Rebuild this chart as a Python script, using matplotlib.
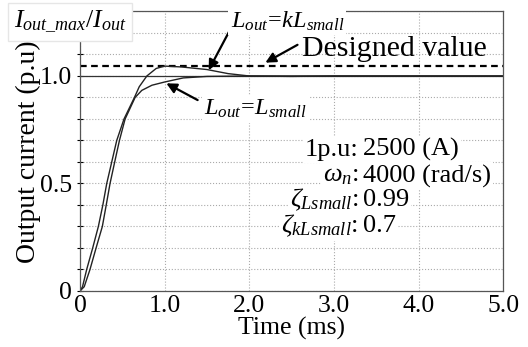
import numpy as np
import matplotlib
matplotlib.use("Agg")
import matplotlib.pyplot as plt

plt.rcParams['font.family'] = ['Liberation Serif', 'DejaVu Serif']
plt.rcParams['mathtext.fontset'] = 'custom'
plt.rcParams['mathtext.rm'] = 'Liberation Serif'
plt.rcParams['mathtext.it'] = 'Liberation Serif:italic'

# step responses (time in ms, current in p.u)
t_klsmall = [0, 0.03, 0.079, 0.15, 0.217, 0.27, 0.316, 0.375, 0.434, 0.52,
             0.643, 0.70, 0.79, 0.90, 1.0, 1.2, 1.5, 1.75, 2.0, 2.5, 3.0, 5.0]
i_klsmall = [0, 0.02, 0.1, 0.2, 0.3, 0.4, 0.5, 0.6, 0.7, 0.8,
             0.9, 0.95, 1.0, 1.035, 1.046, 1.042, 1.03, 1.011, 1.0, 0.998, 1.0, 1.0]

t_lsmall = [0, 0.05, 0.118, 0.19, 0.264, 0.31, 0.355, 0.41, 0.466, 0.533,
            0.651, 0.73, 0.85, 1.0, 1.22, 1.5, 2.0, 5.0]
i_lsmall = [0, 0.02, 0.1, 0.2, 0.3, 0.4, 0.5, 0.6, 0.7, 0.8,
            0.9, 0.933, 0.957, 0.972, 0.991, 0.998, 1.0, 1.0]

designed = 1.046
rated = 1.0

par_names = ['1p.u:', r'$\omega_n$:', r'$\zeta_{Lsmall}$:', r'$\zeta_{kLsmall}$:']
par_values = ['2500 (A)', '4000 (rad/s)', '0.99', '0.7']

fig = plt.figure(figsize=(5.28, 3.47), dpi=100)
ax = fig.add_axes([0.1515, 0.1614, 0.8015, 0.8055])

ax.set_xlim(0, 5)
ax.set_ylim(0, 1.3)
ax.set_xticks([0, 1, 2, 3, 4, 5])
ax.set_xticklabels(['0', '1.0', '2.0', '3.0', '4.0', '5.0'])
ax.set_yticks([0, 0.5, 1.0])
ax.set_yticklabels(['0', '0.5', '1.0'])
ax.set_yticks(np.arange(0, 1.31, 0.1), minor=True)
ax.tick_params(axis='both', which='major', labelsize=18.5)
ax.tick_params(axis='x', length=0, pad=3)
ax.tick_params(axis='y', which='both', direction='inout', length=5, width=0.8, pad=3)
ax.grid(True, which='both', color='#aaaaaa', linestyle=':', linewidth=0.8)
for s in ax.spines.values():
    s.set_color('#555555')
    s.set_linewidth(0.9)

ax.axhline(rated, color='#333333', lw=0.9)
ax.axhline(designed, color='k', lw=1.6, ls=(0, (3, 2)))
ax.plot(t_klsmall, i_klsmall, color='#222222', lw=1.0)
ax.plot(t_lsmall, i_lsmall, color='#222222', lw=1.0)

ax.set_xlabel('Time (ms)', fontsize=18.5, labelpad=0)
ax.set_ylabel('Output current (p.u)', fontsize=20, labelpad=-1)

box = dict(facecolor='white', edgecolor='none', pad=1.5)
arr = dict(arrowstyle='-|>,head_length=0.6,head_width=0.3', color='k', lw=1.6,
           shrinkA=0, shrinkB=0)

ax.annotate('', xy=(1.52, 1.027), xytext=(1.78, 1.22), arrowprops=arr,
            annotation_clip=False)
ax.text(2.45, 1.255, r'$L_{out}\!=\!kL_{small}$', fontsize=17.5, ha='center',
        va='center', bbox=box, clip_on=False)

ax.annotate('', xy=(2.19, 1.062), xytext=(2.57, 1.145), arrowprops=arr)
ax.text(2.62, 1.125, 'Designed value', fontsize=21.5, ha='left', va='center')

ax.annotate('', xy=(1.02, 0.966), xytext=(1.39, 0.888), arrowprops=arr)
ax.text(1.47, 0.845, r'$L_{out}\!=\!L_{small}$', fontsize=17.5, ha='left',
        va='center', bbox=box)

par_y = [0.656, 0.535, 0.423, 0.302]
for name, val, y in zip(par_names, par_values, par_y):
    ax.text(3.29, y, name, fontsize=19, ha='right', va='center', bbox=box)
    ax.text(3.34, y, val, fontsize=19, ha='left', va='center', bbox=box)

fig.text(70 / 528, 1 - 22 / 347, r'$I_{out\_max}/I_{out}$', fontsize=18.5,
         ha='center', va='center',
         bbox=dict(facecolor='white', edgecolor='#e6e6e6', pad=4))

fig.savefig('out.png', dpi=100)
